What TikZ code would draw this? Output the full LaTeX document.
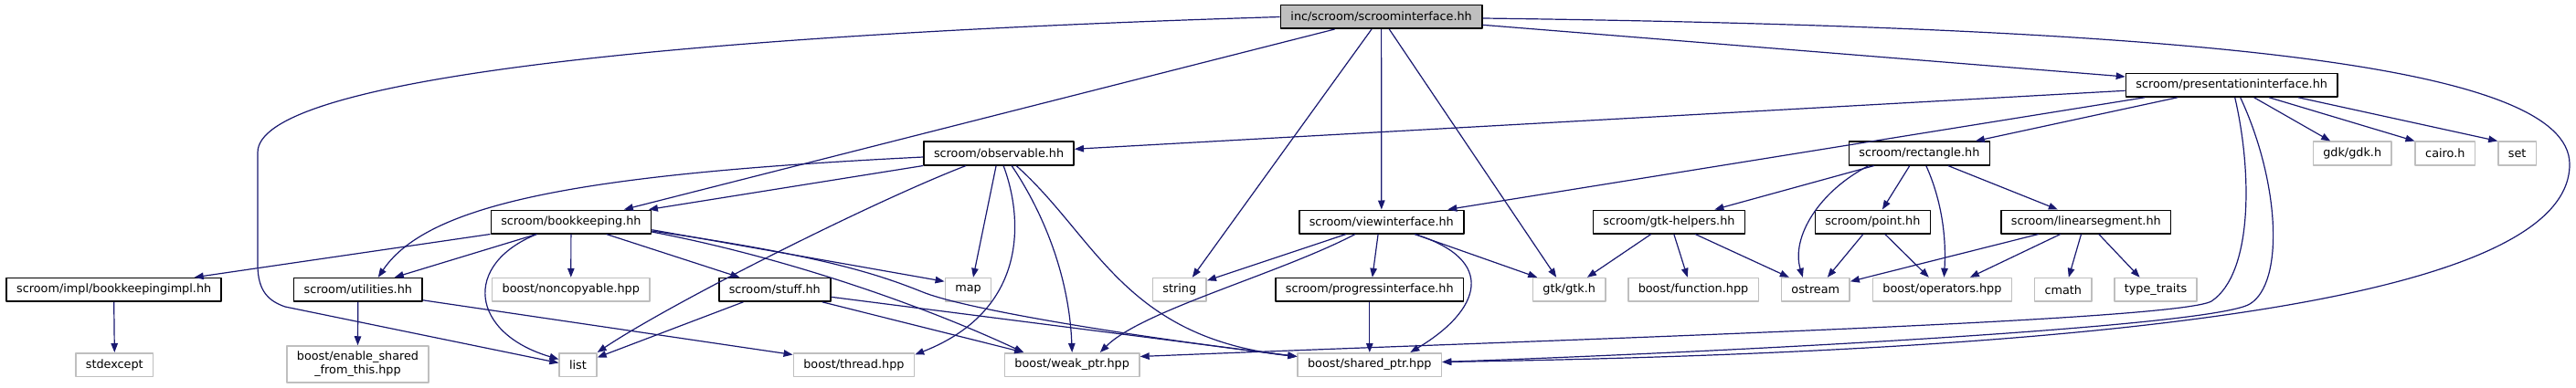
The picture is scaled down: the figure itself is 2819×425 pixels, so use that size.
\documentclass[tikz,border=0pt]{standalone}
\usepackage{fontspec}
\setmainfont{DejaVu Sans}
\usetikzlibrary{arrows.meta}
\definecolor{midblue}{HTML}{191970}
\definecolor{grey75}{HTML}{BFBFBF}
\begin{document}
\begin{tikzpicture}[x=1pt,y=-1pt,font=\fontsize{12.8}{15}\selectfont,line join=round,
    >={Triangle[length=10pt,width=7.5pt]},
    hdr/.style={draw=black,line width=1.5pt,fill=white,minimum height=25.5pt,inner xsep=11pt,inner ysep=0pt},
    sys/.style={hdr,draw=grey75},
    root/.style={hdr,fill=grey75},
    dep/.style={->,draw=midblue,line width=1.2pt}]
  \useasboundingbox (0,0) rectangle (2819,425);
  % headers of the project
  \node[root] (top) at (1511.6,18.5) {inc/scroom/scroominterface.hh};
  \node[hdr] (pres) at (2442.2,93.3) {scroom/presentationinterface.hh};
  \node[hdr] (obs) at (1093.1,168) {scroom/observable.hh};
  \node[hdr] (rect) at (2100.4,168) {scroom/rectangle.hh};
  \node[hdr] (book) at (624.9,243) {scroom/bookkeeping.hh};
  \node[hdr] (view) at (1511.8,243) {scroom/viewinterface.hh};
  \node[hdr] (gtkh) at (1826.4,243) {scroom/gtk-helpers.hh};
  \node[hdr] (point) at (2049.3,243) {scroom/point.hh};
  \node[hdr] (lseg) at (2282.8,243) {scroom/linearsegment.hh};
  \node[hdr] (impl) at (124.7,317.3) {scroom/impl/bookkeepingimpl.hh};
  \node[hdr] (util) at (391.8,317.3) {scroom/utilities.hh};
  \node[hdr] (stuff) at (847.8,317.3) {scroom/stuff.hh};
  \node[hdr] (prog) at (1498.8,317.3) {scroom/progressinterface.hh};
  % system and library headers
  \node[sys] (gdk) at (2574.2,168) {gdk/gdk.h};
  \node[sys] (cairo) at (2675.8,168) {cairo.h};
  \node[sys] (set) at (2754.7,168) {set};
  \node[sys] (noncop) at (624.8,317.3) {boost/noncopyable.hpp};
  \node[sys] (map) at (1059.5,317.3) {map};
  \node[sys] (string) at (1290.8,317.3) {string};
  \node[sys] (gtk) at (1717.2,317.3) {gtk/gtk.h};
  \node[sys] (func) at (1853,317.3) {boost/function.hpp};
  \node[sys] (ostream) at (1986.8,317.3) {ostream};
  \node[sys] (ops) at (2125.4,317.3) {boost/operators.hpp};
  \node[sys] (cmath) at (2257.8,317.3) {cmath};
  \node[sys] (tt) at (2359,317.3) {type\_traits};
  \node[sys] (stdexcept) at (125.3,399.5) {stdexcept};
  \node[sys,minimum height=40pt,align=center] (enable) at (391.5,399) {boost/enable\_shared\\\_from\_this.hpp};
  \node[sys] (list) at (632.5,399.5) {list};
  \node[sys] (thread) at (934.4,399.5) {boost/thread.hpp};
  \node[sys] (weak) at (1173.2,399.5) {boost/weak\_ptr.hpp};
  \node[sys] (shared) at (1498.8,399.5) {boost/shared\_ptr.hpp};

  % scroominterface.hh
  \draw[dep] (top.west) .. controls (700,40) and (282,90) .. (282,167) -- (282,290) .. controls (282,320) and (295,330) .. (312,336) -- ([yshift=2pt]list.west);
  \draw[dep] ([xshift=-51pt]top.south) -- ([xshift=58pt]book.north);
  \draw[dep] ([xshift=-10.6pt]top.south) -- ([xshift=14pt]string.north);
  \draw[dep] (top.south) -- (view.north);
  \draw[dep] ([xshift=8.7pt]top.south) -- ([xshift=-14pt]gtk.north);
  \draw[dep] ([yshift=-8.8pt]top.east) -- ([yshift=9.3pt]pres.west);
  \draw[dep] ([yshift=-1.5pt]top.east) .. controls (2400,30) and (2812,70) .. (2812,180) .. controls (2812,330) and (2300,385) .. ([yshift=3pt]shared.east);
  % presentationinterface.hh
  \draw[dep] ([yshift=-6pt]pres.west) -- ([yshift=4.7pt]obs.east);
  \draw[dep] ([xshift=-95.4pt]pres.south) -- ([xshift=72.5pt]view.north);
  \draw[dep] ([xshift=-59.4pt]pres.south) -- ([xshift=61.4pt]rect.north);
  \draw[dep] ([xshift=24.5pt]pres.south) -- ([xshift=-24pt]gdk.north);
  \draw[dep] ([xshift=41pt]pres.south) -- (cairo.north west);
  \draw[dep] ([xshift=73pt]pres.south) -- (set.north west);
  \draw[dep] ([xshift=3.5pt]pres.south) .. controls (2465,190) and (2465,300) .. (2420,330) .. controls (2380,352) and (1700,372) .. ([yshift=9pt]weak.east);
  \draw[dep] ([xshift=9.5pt]pres.south) .. controls (2495,200) and (2500,310) .. (2462,333) .. controls (2420,358) and (1900,385) .. ([yshift=3pt]shared.east);
  % observable.hh
  \draw[dep] ([yshift=-4pt]obs.west) .. controls (650,190) and (470,220) .. ([xshift=22pt]util.north);
  \draw[dep] (obs.south west) -- ([xshift=85pt]book.north);
  \draw[dep] ([xshift=-36pt]obs.south) .. controls (957,220) and (736,331) .. (list.north east);
  \draw[dep] ([xshift=-3pt]obs.south) -- ([xshift=5.5pt]map.north);
  \draw[dep] ([xshift=5pt]obs.south) .. controls (1120,240) and (1125,340) .. ([yshift=11pt]thread.east);
  \draw[dep] ([xshift=14pt]obs.south) .. controls (1140,230) and (1170,300) .. (weak.north);
  \draw[dep] ([xshift=19pt]obs.south) .. controls (1200,260) and (1230,370) .. ([yshift=9pt]shared.west);
  % bookkeeping.hh
  \draw[dep] (book.south west) -- ([xshift=88pt]impl.north);
  \draw[dep] ([xshift=-37.5pt]book.south) -- ([xshift=40pt]util.north);
  \draw[dep] ([xshift=-37.5pt]book.south) .. controls (505,290) and (515,365) .. ([yshift=6pt]list.west);
  \draw[dep] (book.south) -- (noncop.north);
  \draw[dep] ([xshift=38.6pt]book.south) -- ([xshift=-38.4pt]stuff.north);
  \draw[dep] ([yshift=-8.7pt]book.east) -- ([yshift=9pt]map.west);
  \draw[dep] ([yshift=-10pt]book.east) .. controls (900,280) and (960,300) .. (1010,320) .. controls (1060,340) and (1250,370) .. ([yshift=9pt]shared.west);
  \draw[dep] ([yshift=-11pt]book.east) .. controls (850,280) and (1000,330) .. ([xshift=-53pt]weak.north);
  % utilities.hh, bookkeepingimpl.hh, stuff.hh
  \draw[dep] (util.south) -- (enable.north);
  \draw[dep] ([yshift=2pt]util.south east) -- ([yshift=11pt]thread.west);
  \draw[dep] (impl.south) -- (stdexcept.north);
  \draw[dep] ([xshift=-34.4pt]stuff.south) -- ([yshift=8pt]list.east);
  \draw[dep] ([xshift=52pt]stuff.south) -- ([xshift=-53pt]weak.north);
  \draw[dep] ([yshift=-8pt]stuff.east) -- ([yshift=9pt]shared.west);
  % viewinterface.hh
  \draw[dep] ([xshift=-38.7pt]view.south) -- ([yshift=10pt]string.east);
  \draw[dep] ([xshift=-28.7pt]view.south) .. controls (1400,300) and (1250,340) .. ([xshift=30.6pt]weak.north);
  \draw[dep] ([xshift=-3.7pt]view.south) -- ([xshift=3pt]prog.north);
  \draw[dep] ([xshift=36.3pt]view.south) -- ([xshift=-35pt]gtk.north);
  \draw[dep] ([xshift=36.3pt]view.south) .. controls (1640,285) and (1620,340) .. ([xshift=44.5pt]shared.north);
  \draw[dep] (prog.south) -- (shared.north);
  % rectangle.hh
  \draw[dep] ([xshift=-49.5pt]rect.south) -- ([xshift=50pt]gtkh.north);
  \draw[dep] ([xshift=-55.5pt]rect.south) .. controls (1990,210) and (1960,260) .. ([xshift=-14pt]ostream.north);
  \draw[dep] ([xshift=-10.6pt]rect.south) -- ([xshift=10.6pt]point.north);
  \draw[dep] ([xshift=7.4pt]rect.south) .. controls (2125,220) and (2130,260) .. ([xshift=2pt]ops.north);
  \draw[dep] ([xshift=31.4pt]rect.south) -- ([xshift=-31pt]lseg.north);
  % gtk-helpers.hh, point.hh, linearsegment.hh
  \draw[dep] ([xshift=-19.6pt]gtkh.south) -- ([xshift=19.7pt]gtk.north);
  \draw[dep] ([xshift=5.4pt]gtkh.south) -- ([xshift=-6.3pt]func.north);
  \draw[dep] ([xshift=28.7pt]gtkh.south) -- ([xshift=-29pt]ostream.north);
  \draw[dep] ([xshift=-10.4pt]point.south) -- ([xshift=13pt]ostream.north);
  \draw[dep] ([xshift=13.5pt]point.south) -- ([xshift=-14.6pt]ops.north);
  \draw[dep] ([xshift=-52pt]lseg.south) -- ([yshift=9pt]ostream.east);
  \draw[dep] ([xshift=-28pt]lseg.south) -- ([xshift=30.4pt]ops.north);
  \draw[dep] ([xshift=-5.3pt]lseg.south) -- ([xshift=6pt]cmath.north);
  \draw[dep] ([xshift=14pt]lseg.south) -- ([xshift=-17.4pt]tt.north);
\end{tikzpicture}
\end{document}
